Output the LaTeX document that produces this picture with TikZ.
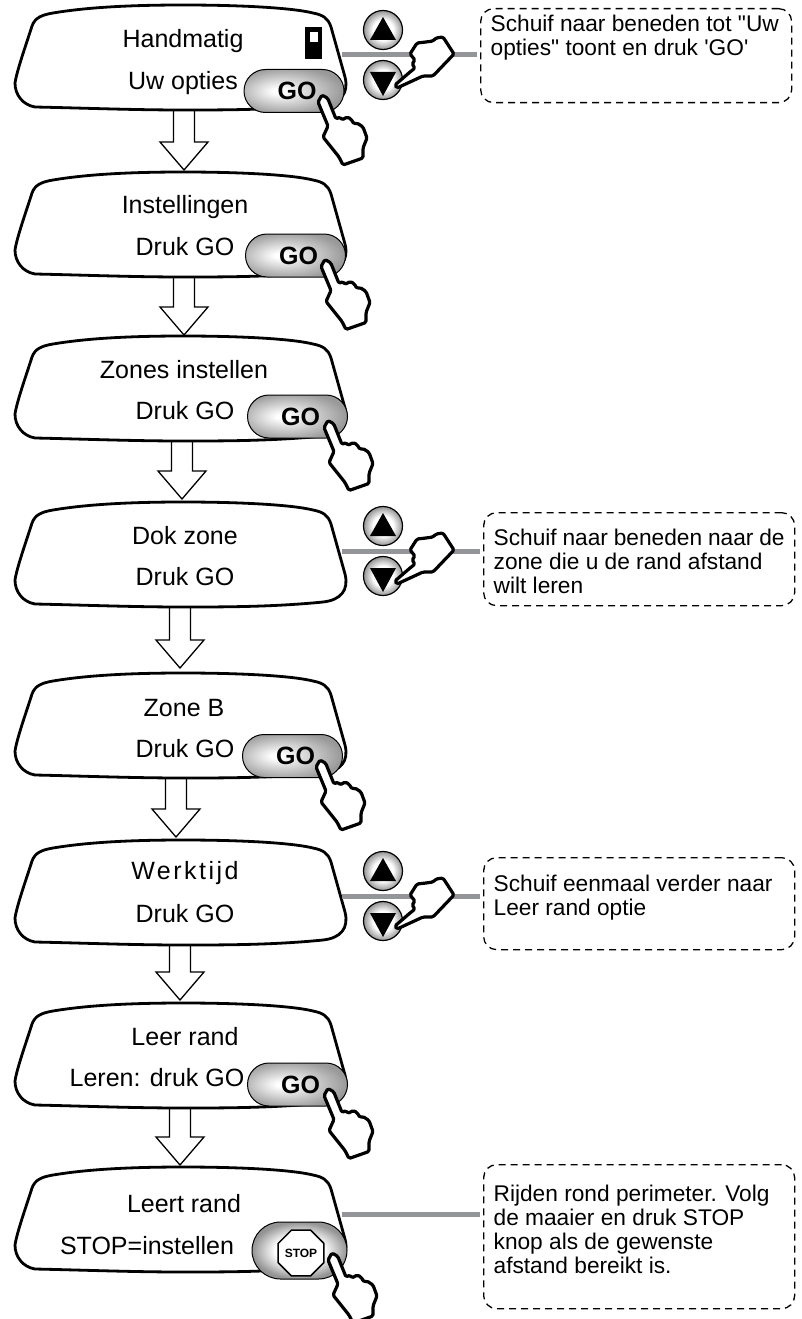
\documentclass[tikz,border=0pt]{standalone}
\usepackage{fontspec}
\setmainfont{Liberation Sans}
\newfontfamily\notefont{Liberation Sans}
\usetikzlibrary{shapes.misc,shapes.geometric}

\definecolor{linegray}{HTML}{939598}

\pgfdeclareradialshading{keyshade}{\pgfpoint{0bp}{0bp}}{color(0bp)=(white); color(13bp)=(white); color(25bp)=(black!42); color(50bp)=(black!42)}
\pgfdeclareradialshading{pillshade}{\pgfpoint{-8bp}{0bp}}{color(0bp)=(white); color(3bp)=(white); color(28bp)=(black!40); color(50bp)=(black!40)}

\newcommand{\notetext}[3]{\parbox[c][#1][t]{291pt}{\raggedright\vspace*{#2}#3}}
\newcommand{\gotext}{\hspace*{6pt}\raisebox{-2pt}{GO}}

\begin{document}
\begin{tikzpicture}[x=1pt,y=-1pt,line join=round]
    \tikzstyle{label}=[font=\fontsize{25}{25}\selectfont,inner sep=0pt]
    \tikzstyle{note}=[draw=black,dashed,line width=1.3pt,dash pattern=on 7pt off 5pt,rounded corners=13pt,
        font=\notefont\fontsize{22.7}{24}\selectfont,inner xsep=10pt,inner ysep=6pt,anchor=north west]
    \tikzstyle{panel}=[draw=black,line width=2.8pt,fill=white]
    \tikzstyle{hand}=[draw=black,line width=3.2pt,fill=white,rounded corners=1.5pt]
    \tikzstyle{arrowline}=[draw=black,line width=1.3pt,fill=white,line join=miter]
    \tikzstyle{gobutton}=[rounded rectangle,draw=black,line width=1pt,shading=pillshade,
        minimum width=100pt,minimum height=43pt,inner sep=0pt,font=\fontsize{25}{25}\selectfont\bfseries]
    \tikzstyle{stopbutton}=[rounded rectangle,draw=black,line width=1pt,shading=keyshade,
        minimum width=95pt,minimum height=57pt,inner sep=0pt]
    \tikzstyle{stopsign}=[regular polygon,regular polygon sides=8,draw=black,line width=1.5pt,fill=white,
        minimum size=42pt,inner sep=0pt,font=\fontsize{12}{12}\selectfont\bfseries]
    \tikzstyle{key}=[circle,draw=black,line width=1.2pt,shading=keyshade,minimum size=39pt,inner sep=0pt]
    \tikzstyle{feed}=[draw=linegray,line width=5pt,shorten >=3pt]

    \tikzset{
        display/.pic={
            \path[panel] (0,0) .. controls (60,0) and (110,3) .. (130,8)
                .. controls (140,10) and (145,13) .. (148,22) -- (162,72)
                .. controls (166,88) and (158,98) .. (140,100)
                .. controls (90,105) and (40,105) .. (0,105)
                .. controls (-50,105) and (-100,103) .. (-148,102)
                .. controls (-160,100) and (-168,90) .. (-168,78)
                .. controls (-166,65) and (-157,40) .. (-151,21)
                .. controls (-148,13) and (-142,10) .. (-130,8)
                .. controls (-100,3) and (-60,0) .. (0,0) -- cycle;
        },
        blockarrow/.pic={
            \path[arrowline] (0,0) -- (-24,-28) -- (-10.5,-28) -- (-10.5,-62) -- (10.5,-62) -- (10.5,-28) -- (24,-28) -- cycle;
        },
        presshand/.pic={
            \path[hand] (0,0) -- (5.7,3.3) -- (14,24) -- (18,22) -- (20,25) -- (25,22) -- (29,24) -- (32,29) -- (35,28)
                -- (41,32) -- (45,43) -- (41,53) -- (41,63) -- (21,70) -- (17,62) -- (1,42) -- (6,31) -- (-4,7) -- cycle;
        },
        sidehand/.pic={
            \path[hand] (0,0) -- (15,-13) -- (20,-17) -- (17,-21) -- (20,-25) -- (15,-31) -- (22,-42) -- (31,-43) -- (38,-44)
                -- (41,-47) -- (48,-48) -- (59,-31) -- (38,-9) -- (28,-9) -- (2,3) -- cycle;
        },
        updown/.pic={
            \node[key] (-up) at (0,0) {};
            \node[key] (-down) at (0,50) {};
            \fill[black] (0,-13) -- (13,10) -- (-13,10) -- cycle;
            \fill[black] (0,66) -- (13,42) -- (-13,42) -- cycle;
        }
    }

    \useasboundingbox (0,0) rectangle (801,1319);

    % Draw the block arrows between the panels
    \foreach \name / \x / \y in {1/184/170,2/184/335,3/182/499,4/180/668,5/176/837,6/180/1000,7/180/1165}
        \pic (A-\name) at (\x,\y) {blockarrow};

    % Draw the display panels
    \foreach \name / \y in {1/5,2/172,3/336,4/502,5/673,6/840,7/1003,8/1167}
        \pic (D-\name) at (183,\y) {display};

    % Draw the panel texts
    \node[label] (T-1a) at (183,41) {Handmatig};
    \node[label] (T-1b) at (183,83) {Uw opties};
    \node[label] (T-2a) at (185,207) {Instellingen};
    \node[label] (T-2b) at (185,247) {Druk GO};
    \node[label] (T-3a) at (184,370) {Zones instellen};
    \node[label] (T-3b) at (185,411) {Druk GO};
    \node[label] (T-4a) at (185,536) {Dok zone};
    \node[label] (T-4b) at (185,577) {Druk GO};
    \node[label] (T-5a) at (184,708) {Zone B};
    \node[label] (T-5b) at (185,749) {Druk GO};
    \node[label] (T-6a) at (185,873) {\addfontfeature{LetterSpace=10}Werktijd};
    \node[label] (T-6b) at (185,914) {Druk GO};
    \node[label] (T-7a) at (185,1037) {Leer rand};
    \node[label] (T-7b) at (157,1078) {Leren: druk GO};
    \node[label] (T-8a) at (184,1204) {Leert rand};
    \node[label] (T-8b) at (147,1246) {STOP=instellen};

    % Symbol in the first panel
    \fill[black] (305,27) rectangle (322,59);
    \fill[white] (310,32) rectangle (318,42);

    % Draw the notes
    \node[note] (N-1) at (480,8) {\notetext{82pt}{0pt}{Schuif naar beneden tot "Uw\\opties" toont en druk 'GO'}};
    \node[note] (N-2) at (483,512) {\notetext{81pt}{10pt}{Schuif naar beneden naar de\\zone die u de rand afstand\\wilt leren}};
    \node[note] (N-3) at (483,857) {\notetext{80pt}{11pt}{Schuif eenmaal verder naar\\Leer rand optie}};
    \node[note] (N-4) at (483,1164) {\notetext{132pt}{14pt}{Rijden rond perimeter. Volg\\de maaier en druk STOP\\knop als de gewenste\\afstand bereikt is.}};

    % Connect the panels with the notes
    \coordinate (L-1) at (342,55);
    \coordinate (L-2) at (342,551);
    \coordinate (L-3) at (342,896);
    \coordinate (L-4) at (342,1214);
    \foreach \source in {1,...,4}
        \draw[feed] (L-\source) -- (L-\source -| N-\source.west);

    % Draw the up and down keys with the hand
    \foreach \name / \y in {1/30,2/526,3/871}
    {
        \pic (K-\name) at (383,\y) {updown};
        \pic at (395,\y+55) {sidehand};
    }

    % Draw the buttons with the hand
    \foreach \name / \x / \y / \tip in {1/294/91/322,2/295.5/255.5/325,3/297.5/416.5/328,4/292.5/756/320,5/297.5/1084.5/328}
    {
        \node[gobutton] (B-\name) at (\x,\y) {\gotext};
        \pic at (\tip,\y+4) {presshand};
    }
    \node[stopbutton] (B-6) at (299.5,1250.5) {};
    \node[stopsign] (S-1) at (301,1253) {STOP};
    \pic at (332,1253) {presshand};
\end{tikzpicture}
\end{document}
